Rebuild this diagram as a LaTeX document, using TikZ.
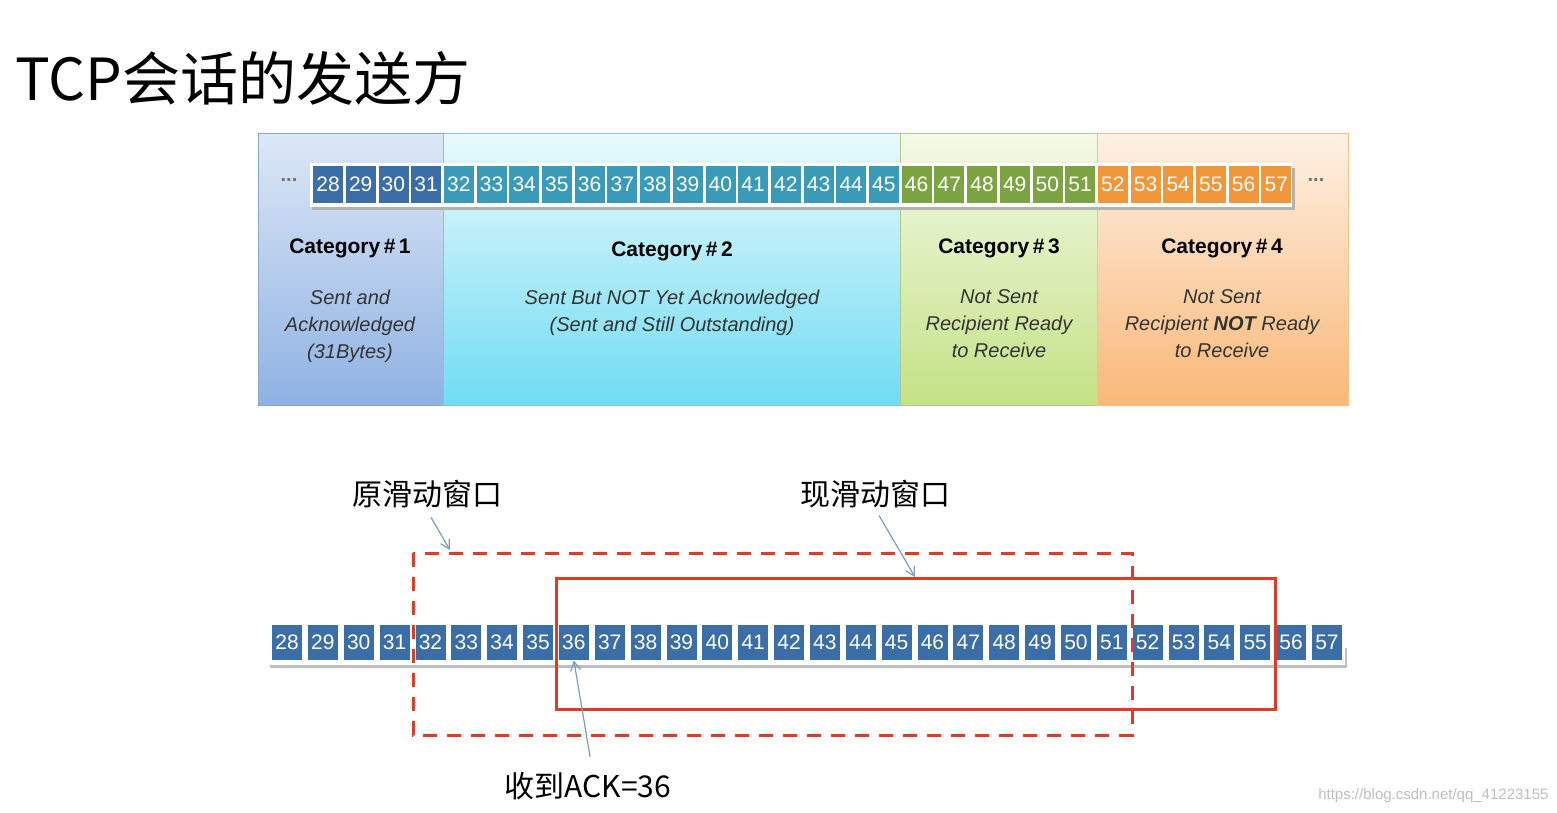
\documentclass[tikz,border=0pt]{standalone}
\usepackage{fontspec}
\setmainfont{Liberation Sans}
\newfontfamily\cjk{Noto Sans CJK SC}
\usetikzlibrary{positioning,arrows.meta}
\definecolor{catA}{HTML}{3B6DA6}
\definecolor{catB}{HTML}{3A9BB8}
\definecolor{catC}{HTML}{7DA443}
\definecolor{catD}{HTML}{F2963A}
\definecolor{panelA}{HTML}{8FB2E3}
\definecolor{panelB}{HTML}{6FDCF3}
\definecolor{panelC}{HTML}{C4E286}
\definecolor{panelD}{HTML}{F9B878}
\definecolor{winred}{HTML}{E23B25}
\definecolor{arrowblue}{HTML}{7E9CC0}
\tikzset{
  cell/.style={draw=white, line width=0.8pt, minimum width=31pt, minimum height=38pt,
    inner sep=0pt, text=white, font=\fontsize{21}{21}\selectfont},
  bcell/.style={cell, fill=catA, minimum width=31pt, minimum height=36pt},
  cathead/.style={font=\bfseries\fontsize{21}{24}\selectfont, align=center},
  catbody/.style={font=\itshape\fontsize{20}{27}\selectfont, align=center, text=black!80},
  cjklabel/.style={font=\cjk\fontsize{30}{32}\selectfont},
  dots/.style={text=black!55, font=\bfseries\fontsize{20}{20}\selectfont},
  pointer/.style={-{Straight Barb[length=9pt, width=10pt]}, draw=arrowblue, line width=1.2pt}
}
\begin{document}
\begin{tikzpicture}[x=1pt, y=-1pt]
\useasboundingbox (0,0) rectangle (1557,812);
\fill[white] (0,0) rectangle (1557,812);

\node[anchor=west, font=\cjk\fontsize{58}{60}\selectfont] (title) at (12,78) {TCP会话的发送方};

% category panels
\shade[top color=panelA!30, bottom color=panelA, draw=catA!60] (258,133) rectangle (443,405);
\shade[top color=panelB!15, bottom color=panelB, draw=catB!60] (443,133) rectangle (900,405);
\shade[top color=panelC!20, bottom color=panelC, draw=catC!60] (900,133) rectangle (1097,405);
\shade[top color=panelD!20, bottom color=panelD, draw=catD!60] (1097,133) rectangle (1348,405);

\fill[black!30] (312,168) rectangle (1295,210);
\fill[white] (310,163) rectangle (1292,207);
\foreach \n in {28,...,57} {
  \pgfmathsetmacro\cx{328+(\n-28)*32.7}
  \ifnum\n<32 \def\cc{catA}\else\ifnum\n<46 \def\cc{catB}\else\ifnum\n<52 \def\cc{catC}\else\def\cc{catD}\fi\fi\fi
  \node[cell, fill=\cc] (t\n) at (\cx,184) {\n};
}
\node[dots] (tl) at (289,180) {...};
\node[dots] (tr) at (1316,180) {...};

\node[cathead] (h1) at (350,248) {Category\,\#\,1};
\node[cathead] (h2) at (672,251) {Category\,\#\,2};
\node[cathead] (h3) at (999,248) {Category\,\#\,3};
\node[cathead] (h4) at (1222,248) {Category\,\#\,4};
\node[catbody, anchor=north] (d1) at (350,286) {Sent and\\Acknowledged\\(31Bytes)};
\node[catbody, anchor=north] (d2) at (672,286) {Sent But NOT Yet Acknowledged\\(Sent and Still Outstanding)};
\node[catbody, anchor=north] (d3) at (999,286) {Not Sent\\Recipient Ready\\to Receive};
\node[catbody, anchor=north] (d4) at (1222,286) {Not Sent\\Recipient \textbf{NOT} Ready\\to Receive};

% byte stream after ACK
\fill[black!25] (270,648) rectangle (1347,668);
\fill[white] (268,622) rectangle (1345,665);
\foreach \n in {28,...,57} {
  \pgfmathsetmacro\cx{287+(\n-28)*35.86}
  \node[bcell] (b\n) at (\cx,642) {\n};
}

% windows
\draw[winred, line width=3pt, dash pattern=on 14pt off 10pt] (413,553) rectangle (1132,735);
\draw[winred, line width=3pt] (556,578) rectangle (1275,709);

\node[cjklabel] (old) at (427,494) {原滑动窗口};
\node[cjklabel] (new) at (875,494) {现滑动窗口};
\node[cjklabel] (ack) at (588,786) {收到ACK=36};
\coordinate (oldtip) at (450,550);
\coordinate (newtip) at (915,577);
\draw[pointer] (old.south) ++(4,6) -- (oldtip);
\draw[pointer] (new.south) ++(4,4) -- (newtip);
\draw[pointer] (ack.north) ++(2,-12) -- (b36.south);

\node[anchor=south east, text=black!25, font=\fontsize{15}{15}\selectfont] (wm) at (1552,806) {https://blog.csdn.net/qq\_41223155};
\end{tikzpicture}
\end{document}
